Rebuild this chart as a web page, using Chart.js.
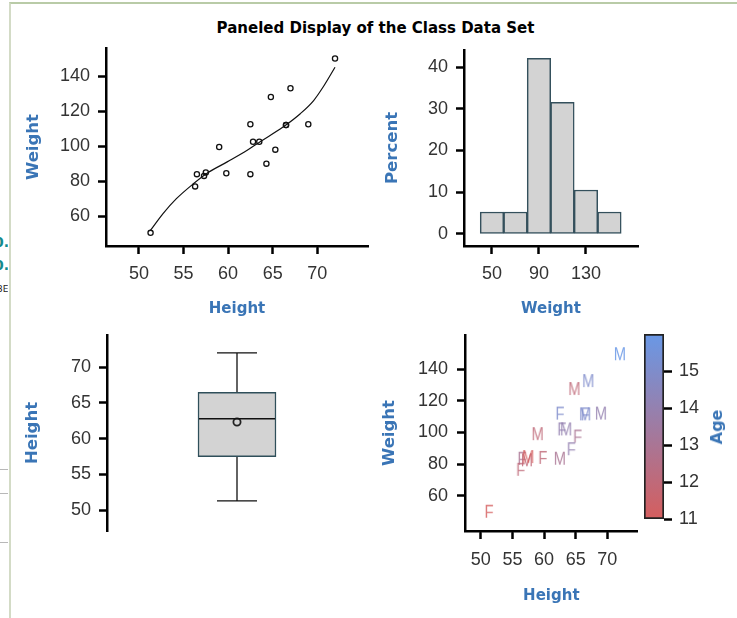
<!DOCTYPE html>
<html>
<head>
<meta charset="utf-8">
<title>Paneled Display of the Class Data Set</title>
<script src="https://cdn.jsdelivr.net/npm/chart.js@4.4.1/dist/chart.umd.min.js"></script>
<style>
  html, body { margin: 0; padding: 0; background: #fff; }
  body { width: 737px; height: 618px; position: relative; overflow: hidden; }
  canvas { position: absolute; }
  #frame { position: absolute; left: 9px; top: 2px; width: 760px; height: 660px;
           border-left: 2px solid #d3dbc6; border-top: 2px solid #b9cba7; }
  #title { position: absolute; left: 175px; width: 401px; top: 19px; text-align: center;
           font: bold 15px 'DejaVu Sans', sans-serif; line-height: 18px; color: #000; }
  #ageTitle { position: absolute; left: 717px; top: 427px; transform: translate(-50%, -50%) rotate(-90deg);
              font: bold 16px 'DejaVu Sans', sans-serif; line-height: 18px; color: #3a75b6; white-space: nowrap; }
  #edge { position: absolute; left: 0; top: 0; width: 8px; height: 618px; overflow: hidden; }
  #edge .mark { position: absolute; left: -6px; font: bold 14px 'DejaVu Sans', sans-serif; color: #148a8c; line-height: 14px; }
  #edge .small { position: absolute; left: -3px; top: 284px; font: 9px 'DejaVu Sans', sans-serif; color: #222; }
  #edge .rule { position: absolute; left: 0; width: 8px; height: 1px; background: #b8b8b8; }
</style>
</head>
<body>
<div id="frame"></div>
<div id="edge">
  <div class="mark" style="top:235px">0.</div>
  <div class="mark" style="top:258px">0.</div>
  <div class="small">3E</div>
  <div class="rule" style="top:469px"></div>
  <div class="rule" style="top:493px"></div>
  <div class="rule" style="top:542px"></div>
</div>
<div id="title">Paneled Display of the Class Data Set</div>

<canvas id="scatterFit" width="370" height="310" style="left:10px;top:20px"></canvas>
<canvas id="histogram" width="357" height="310" style="left:380px;top:20px"></canvas>
<canvas id="boxplot" width="370" height="313" style="left:10px;top:305px"></canvas>
<canvas id="groupScatter" width="357" height="313" style="left:380px;top:305px"></canvas>
<canvas id="ageBar" width="117" height="240" style="left:620px;top:305px"></canvas>
<div id="ageTitle">Age</div>

<script>
// ---------------- Class data (19 students) ----------------
const sex    = ['M','F','F','F','M','M','F','F','M','M','F','F','F','F','M','M','M','M','M'];
const age    = [14, 13, 13, 14, 14, 12, 12, 15, 13, 12, 11, 14, 12, 15, 16, 12, 15, 11, 15];
const height = [69.0, 56.5, 65.3, 62.8, 63.5, 57.3, 59.8, 62.5, 62.5, 59.0, 51.3, 64.3, 56.3, 66.5, 72.0, 64.8, 67.0, 57.5, 66.5];
const weight = [112.5, 84.0, 98.0, 102.5, 102.5, 83.0, 84.5, 112.5, 84.0, 99.5, 50.5, 90.0, 77.0, 112.0, 150.0, 128.0, 133.0, 85.0, 112.0];

// smoothed fit of weight on height
const fitHeight = [51.3, 52.7, 54.2, 56.1, 57.6, 59.9, 62.1, 63.6, 66.2, 68.1, 69.6, 70.7, 72.0];
const fitWeight = [52.0, 61.5, 70.0, 78.5, 84.4, 91.0, 97.5, 102.5, 111.0, 118.5, 126.0, 134.0, 145.0];

// weight histogram: bin midpoints and percent of students
const binMid = [50, 70, 90, 110, 130, 150];
const binPct = [5.26, 5.26, 42.11, 31.58, 10.53, 5.26];

// height distribution: min, Q1, median, Q3, max and mean
const heightFive = [51.3, 57.5, 62.8, 66.5, 72.0];
const heightMean = [62.34];

// tick values
const fitXTicks  = [50, 55, 60, 65, 70];
const fitYTicks  = [60, 80, 100, 120, 140];
const histXTicks = [50, 90, 130];
const histYTicks = [0, 10, 20, 30, 40];
const boxYTicks  = [50, 55, 60, 65, 70];
const grpXTicks  = [50, 55, 60, 65, 70];
const grpYTicks  = [60, 80, 100, 120, 140];
const ageTicks   = [11, 12, 13, 14, 15];
const ageRange   = [11, 16];

// ---------------- styling ----------------
const TICK_FONT  = "'Liberation Sans', Arial, sans-serif";
const LABEL_FONT = "'DejaVu Sans', sans-serif";
const LABEL_BLUE = '#3a75b6';
const TICK_LEN   = 8;
const AGE_LOW  = [213, 94, 94];
const AGE_HIGH = [105, 152, 230];

Chart.defaults.animation = false;
Chart.defaults.responsive = false;
Chart.defaults.plugins.legend.display = false;
Chart.defaults.plugins.tooltip.enabled = false;

function ageColor(a, alpha) {
  const t = (a - ageRange[0]) / (ageRange[1] - ageRange[0]);
  const c = AGE_LOW.map((lo, k) => Math.round(lo + (AGE_HIGH[k] - lo) * t));
  return `rgba(${c[0]},${c[1]},${c[2]},${alpha})`;
}

// outward tick marks placed through each scale, on the same pixels as the scale's own ticks
function tickMarks(specs) {
  return {
    id: 'tickMarks',
    afterDraw(chart) {
      const { ctx, chartArea: a } = chart;
      ctx.save();
      ctx.fillStyle = '#000';
      for (const { id, side, values } of specs) {
        const s = chart.scales[id];
        for (const v of values) {
          const p = Math.round(s.getPixelForValue(v) - 0.5) - 0.5;
          if (side === 'bottom') ctx.fillRect(p, a.bottom, 2, TICK_LEN);
          else if (side === 'left') ctx.fillRect(a.left - TICK_LEN, p, TICK_LEN, 2);
          else ctx.fillRect(a.right, p, TICK_LEN, 2);
        }
      }
      ctx.restore();
    }
  };
}

// axis with fixed size, fixed ticks, outward tick marks and no grid lines
function axis({ min, max, ticks, size, horizontal, title, titleSize, titlePad, labelPad, position }) {
  const cfg = {
    type: 'linear', min, max,
    afterBuildTicks: s => { s.ticks = ticks.map(v => ({ value: v })); },
    afterFit: s => { if (horizontal) s.height = size; else s.width = size; },
    grid: { display: true, drawOnChartArea: false, drawTicks: true,
            tickLength: TICK_LEN, tickWidth: 2, tickColor: '#000' },
    border: { display: true, color: '#000', width: 2.5 },
    ticks: { font: { family: TICK_FONT, size: 18 }, color: '#333', padding: labelPad,
             autoSkip: false, maxRotation: 0 },
    title: { display: !!title, text: title, color: LABEL_BLUE,
             font: { family: LABEL_FONT, size: titleSize, weight: 'bold', lineHeight: 1.2 },
             padding: horizontal ? { top: 0, bottom: titlePad } : { top: titlePad, bottom: 0 } }
  };
  if (position) cfg.position = position;
  return cfg;
}

// ---------------- Weight vs Height with fit curve ----------------
new Chart(document.getElementById('scatterFit'), {
  type: 'scatter',
  data: {
    datasets: [
      { data: height.map((h, i) => ({ x: h, y: weight[i] })),
        pointRadius: 2.6, pointBorderWidth: 1.3, pointBorderColor: '#111',
        pointBackgroundColor: 'rgba(0,0,0,0)' },
      { type: 'line', data: fitHeight.map((h, i) => ({ x: h, y: fitWeight[i] })),
        borderColor: '#111', borderWidth: 1.2, pointRadius: 0, fill: false,
        cubicInterpolationMode: 'monotone' }
    ]
  },
  options: {
    layout: { padding: { top: 28, right: 12, left: 0, bottom: 0 } },
    scales: {
      x: axis({ min: 46.3, max: 75.7, ticks: fitXTicks, size: 84, horizontal: true,
                title: 'Height', titleSize: 15, titlePad: 12, labelPad: 9 }),
      y: axis({ min: 43, max: 156, ticks: fitYTicks, size: 96,
                title: 'Weight', titleSize: 16.5, titlePad: 13.5, labelPad: 8 })
    }
  },
  plugins: [tickMarks([{ id: 'x', side: 'bottom', values: fitXTicks },
                       { id: 'y', side: 'left', values: fitYTicks }])]
});

// ---------------- Weight histogram ----------------
const histX = axis({ min: 26.2, max: 174.3, ticks: histXTicks, size: 84, horizontal: true,
                     title: 'Weight', titleSize: 15, titlePad: 12, labelPad: 9 });
histX.offset = false;
histX.grid.offset = false;

new Chart(document.getElementById('histogram'), {
  type: 'bar',
  data: {
    datasets: [{
      data: binMid.map((m, i) => ({ x: m, y: binPct[i] })),
      backgroundColor: '#d3d3d3', borderColor: '#34505c', borderWidth: 1.5,
      borderSkipped: false, barPercentage: 1, categoryPercentage: 1
    }]
  },
  options: {
    layout: { padding: { top: 30, right: 99, left: 0, bottom: 0 } },
    scales: {
      x: histX,
      y: axis({ min: -2.9, max: 44.1, ticks: histYTicks, size: 84,
                title: 'Percent', titleSize: 16.5, titlePad: 2.5, labelPad: 8 })
    }
  },
  plugins: [tickMarks([{ id: 'x', side: 'bottom', values: histXTicks },
                       { id: 'y', side: 'left', values: histYTicks }])]
});

// ---------------- Height box plot ----------------
const whiskers = {
  id: 'whiskers',
  beforeDatasetsDraw(chart) {
    const { ctx, scales: { x, y } } = chart;
    const cx = x.getPixelForValue(0);
    const [lo, q1, , q3, hi] = heightFive;
    const cap = 20;
    ctx.save();
    ctx.strokeStyle = '#111';
    ctx.lineWidth = 1.3;
    ctx.beginPath();
    ctx.moveTo(cx, y.getPixelForValue(q3)); ctx.lineTo(cx, y.getPixelForValue(hi));
    ctx.moveTo(cx, y.getPixelForValue(q1)); ctx.lineTo(cx, y.getPixelForValue(lo));
    ctx.moveTo(cx - cap, y.getPixelForValue(hi)); ctx.lineTo(cx + cap, y.getPixelForValue(hi));
    ctx.moveTo(cx - cap, y.getPixelForValue(lo)); ctx.lineTo(cx + cap, y.getPixelForValue(lo));
    ctx.stroke();
    ctx.restore();
  },
  afterDatasetsDraw(chart) {
    const { ctx, scales: { y } } = chart;
    const bar = chart.getDatasetMeta(1).data[0];
    const my = y.getPixelForValue(heightFive[2]);
    ctx.save();
    ctx.strokeStyle = '#111';
    ctx.lineWidth = 1.5;
    ctx.beginPath();
    ctx.moveTo(bar.x - bar.width / 2 + 1, my); ctx.lineTo(bar.x + bar.width / 2 - 1, my);
    ctx.stroke();
    ctx.restore();
  }
};

new Chart(document.getElementById('boxplot'), {
  type: 'bar',
  data: {
    labels: ['Height'],
    datasets: [
      { type: 'line', data: heightMean, showLine: false, order: 0,
        pointRadius: 3.6, pointBorderWidth: 1.8, pointBorderColor: '#222',
        pointBackgroundColor: 'rgba(0,0,0,0)' },
      { data: [[heightFive[1], heightFive[3]]], order: 1,
        backgroundColor: '#d3d3d3', borderColor: '#2f4f5a', borderWidth: 1.5,
        borderSkipped: false, barThickness: 78 }
    ]
  },
  options: {
    layout: { padding: { top: 30, right: 13, left: 0, bottom: 87 } },
    scales: {
      x: { display: false },
      y: axis({ min: 47.1, max: 74.5, ticks: boxYTicks, size: 97,
                title: 'Height', titleSize: 16.5, titlePad: 13, labelPad: 8 })
    }
  },
  plugins: [whiskers, tickMarks([{ id: 'y', side: 'left', values: boxYTicks }])]
});

// ---------------- Weight vs Height, labelled by sex, coloured by age ----------------
function letterMarker(letter, color) {
  const c = document.createElement('canvas');
  c.width = 24; c.height = 24;
  const g = c.getContext('2d');
  g.font = `18px ${TICK_FONT}`;
  g.fillStyle = color;
  g.textAlign = 'center';
  g.textBaseline = 'alphabetic';
  g.setTransform(0.82, 0, 0, 1, 12, 0);   // narrow letterforms
  g.fillText(letter, 0, 18.5);
  return c;
}
const markers = sex.map((s, i) => letterMarker(s, ageColor(age[i], 0.85)));

new Chart(document.getElementById('groupScatter'), {
  type: 'scatter',
  data: {
    datasets: [{
      data: height.map((h, i) => ({ x: h, y: weight[i] })),
      pointStyle: markers, pointRadius: 1
    }]
  },
  options: {
    layout: { padding: { top: 30, right: 99.3, left: 0, bottom: 0 } },
    scales: {
      x: axis({ min: 47.5, max: 74.8, ticks: grpXTicks, size: 87, horizontal: true,
                title: 'Height', titleSize: 15, titlePad: 13, labelPad: 10 }),
      y: axis({ min: 37.7, max: 161.5, ticks: grpYTicks, size: 85,
                title: 'Weight', titleSize: 16.5, titlePad: 0, labelPad: 9 })
    }
  },
  plugins: [tickMarks([{ id: 'x', side: 'bottom', values: grpXTicks },
                       { id: 'y', side: 'left', values: grpYTicks }])]
});

// ---------------- Age colour ramp ----------------
const ageAxis = axis({ min: ageRange[0], max: ageRange[1], ticks: ageTicks, size: 73,
                       position: 'right', labelPad: 7 });
ageAxis.border = { display: false };

new Chart(document.getElementById('ageBar'), {
  type: 'bar',
  data: {
    labels: [''],
    datasets: [{
      data: [ageRange],
      backgroundColor: ctx => {
        const chart = ctx.chart;
        const y = chart.scales.y;
        if (!chart.chartArea || !y) return ageColor(13.5, 1);
        const g = chart.ctx.createLinearGradient(0, y.getPixelForValue(ageRange[0]), 0, y.getPixelForValue(ageRange[1]));
        g.addColorStop(0, ageColor(ageRange[0], 1));
        g.addColorStop(1, ageColor(ageRange[1], 1));
        return g;
      },
      borderColor: '#222', borderWidth: 2, borderSkipped: false,
      barPercentage: 1, categoryPercentage: 1
    }]
  },
  options: {
    layout: { padding: { top: 29, right: 0, left: 24, bottom: 26 } },
    scales: {
      x: { display: false },
      y: ageAxis
    }
  },
  plugins: [tickMarks([{ id: 'y', side: 'right', values: ageTicks }])]
});
</script>
</body>
</html>
